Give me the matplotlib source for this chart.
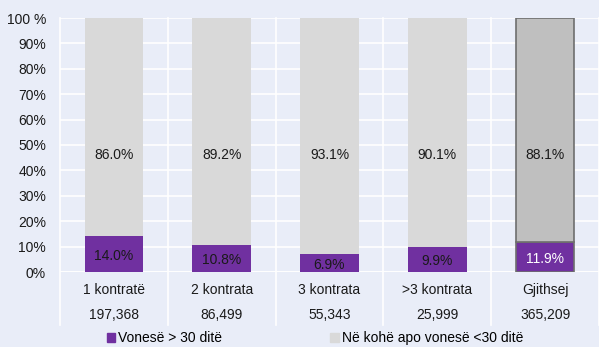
import numpy as np
import matplotlib.pyplot as plt
import matplotlib.patches as mpatches

# Data
categories = ['1 kontratë', '2 kontrata', '3 kontrata', '>3 kontrata', 'Gjithsej']
counts = ['197,368', '86,499', '55,343', '25,999', '365,209']
late = [14.0, 10.8, 6.9, 9.9, 11.9]
ontime = [86.0, 89.2, 93.1, 90.1, 88.1]

purple = '#7030A0'
light = '#D9D9D9'
total_grey = '#BFBFBF'
edge = '#6E6E6E'
bg = '#E9EDF8'
txt = '#1a1a1a'
fs = 10

plt.rcParams['font.family'] = ['Liberation Sans', 'DejaVu Sans']

fig = plt.figure(figsize=(5.99, 3.47), dpi=100, facecolor=bg)
ax = fig.add_axes([60 / 599, 1 - 272 / 347, 539 / 599, 254 / 347])
ax.set_facecolor(bg)

x = np.arange(len(categories))
w = 0.545
last = len(categories) - 1
for i in x:
    top_col = total_grey if i == last else light
    ec = edge if i == last else 'none'
    lw = 1.2 if i == last else 0
    ax.bar(i, late[i], w, color=purple, edgecolor=ec, linewidth=lw, zorder=3)
    ax.bar(i, ontime[i], w, bottom=late[i], color=top_col, edgecolor=ec, linewidth=lw, zorder=3)
    ax.text(i, late[i] / 2 - 0.8, f'{late[i]:.1f}%', ha='center', va='center', fontsize=fs,
            color='white' if i == last else txt, zorder=4)
    ax.text(i, 46, f'{ontime[i]:.1f}%', ha='center', va='center', fontsize=fs,
            color=txt, zorder=4)

ax.set_xlim(-0.5, len(categories) - 0.5)
ax.set_ylim(0, 100)
ax.set_yticks(np.arange(0, 101, 10))
ax.set_yticklabels([f'{v}%' if v < 100 else '100 %' for v in range(0, 101, 10)], fontsize=fs, color=txt)
ax.tick_params(axis='y', length=0, pad=10)
ax.set_xticks([])
ax.grid(axis='y', color='white', linewidth=1.2, zorder=0)
for s in ax.spines.values():
    s.set_visible(False)

# category separators running down through the table rows
table_bottom = -(325 - 272) / 254
for b in np.arange(-0.5, len(categories), 1.0):
    ax.plot([b, b], [100, table_bottom * 100], color='white', linewidth=1.2,
            clip_on=False, zorder=1)
ax.axhline(0, color='white', linewidth=1.2, zorder=1)

for i in x:
    ax.text(i, -(290 - 272) / 254 * 100, categories[i], ha='center', va='center', fontsize=fs,
            color=txt, clip_on=False)
    ax.text(i, -(315 - 272) / 254 * 100, counts[i], ha='center', va='center', fontsize=fs,
            color=txt, clip_on=False)

handles = [mpatches.Patch(color=purple, label='Vonesë > 30 ditë'),
           mpatches.Patch(color=light, label='Në kohë apo vonesë <30 ditë')]
fig.legend(handles=handles, loc='center', bbox_to_anchor=(315 / 599, 1 - 338 / 347), ncol=2,
           frameon=False, fontsize=fs, handlelength=0.6, handleheight=0.6, handletextpad=0.2,
           columnspacing=7.8)

fig.savefig('out.png', dpi=100, facecolor=bg)
